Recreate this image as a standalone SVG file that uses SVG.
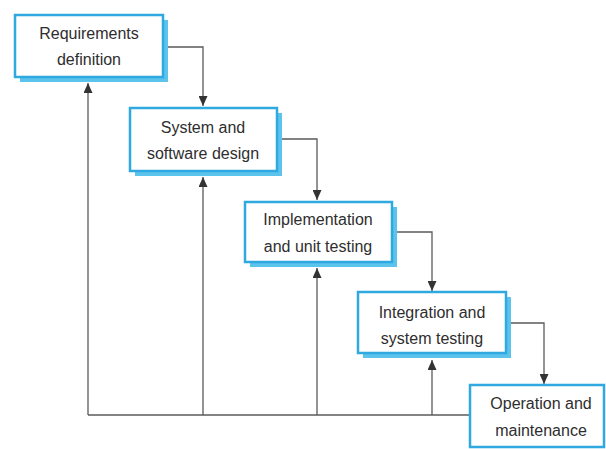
<svg xmlns="http://www.w3.org/2000/svg" width="606" height="449" viewBox="0 0 606 449">
<style>
.box{fill:#ffffff;stroke:#2fa9df;stroke-width:2.5}
.shadow{fill:#5cc3ec}
.lbl{font-family:"Liberation Sans",Arial,sans-serif;font-size:16px;fill:#2e2e2e;text-anchor:middle}
.conn{fill:none;stroke:#5a5a5a;stroke-width:1.3}
</style>
<defs>
<marker id="ah" viewBox="0 0 10 10" refX="10" refY="5" markerWidth="10" markerHeight="9" markerUnits="userSpaceOnUse" orient="auto" preserveAspectRatio="none">
<path d="M0,0 L10,5 L0,10 z" fill="#333"/>
</marker>
</defs>
<rect width="606" height="449" fill="#ffffff"/>
<g id="connectors">
<path class="conn" d="M163,47 H203 V106" marker-end="url(#ah)"/>
<path class="conn" d="M277,139 H317 V200" marker-end="url(#ah)"/>
<path class="conn" d="M392,232 H432 V291" marker-end="url(#ah)"/>
<path class="conn" d="M506,323 H544 V384" marker-end="url(#ah)"/>
<path class="conn" d="M470,415 H88"/>
<path class="conn" d="M88,415 V83" marker-end="url(#ah)"/>
<path class="conn" d="M203,415 V177" marker-end="url(#ah)"/>
<path class="conn" d="M317,415 V268" marker-end="url(#ah)"/>
<path class="conn" d="M432,415 V360" marker-end="url(#ah)"/>
</g>
<g id="n1">
<rect class="shadow" x="20" y="20" width="148" height="62"/>
<rect class="box" x="15" y="15" width="148" height="62"/>
<text class="lbl" x="89" y="39">Requirements</text>
<text class="lbl" x="89" y="65">definition</text>
</g>
<g id="n2">
<rect class="shadow" x="135" y="113" width="147" height="63"/>
<rect class="box" x="130" y="108" width="147" height="63"/>
<text class="lbl" x="203" y="133">System and</text>
<text class="lbl" x="203" y="159">software design</text>
</g>
<g id="n3">
<rect class="shadow" x="250" y="207" width="147" height="60"/>
<rect class="box" x="245" y="202" width="147" height="60"/>
<text class="lbl" x="318" y="225">Implementation</text>
<text class="lbl" x="318" y="252">and unit testing</text>
</g>
<g id="n4">
<rect class="shadow" x="363" y="297" width="148" height="61"/>
<rect class="box" x="358" y="292" width="148" height="61"/>
<text class="lbl" x="432" y="318">Integration and</text>
<text class="lbl" x="432" y="344">system testing</text>
</g>
<g id="n5">
<rect class="box" x="470" y="385" width="134" height="62"/>
<text class="lbl" x="541" y="409">Operation and</text>
<text class="lbl" x="541" y="436">maintenance</text>
</g>
</svg>
